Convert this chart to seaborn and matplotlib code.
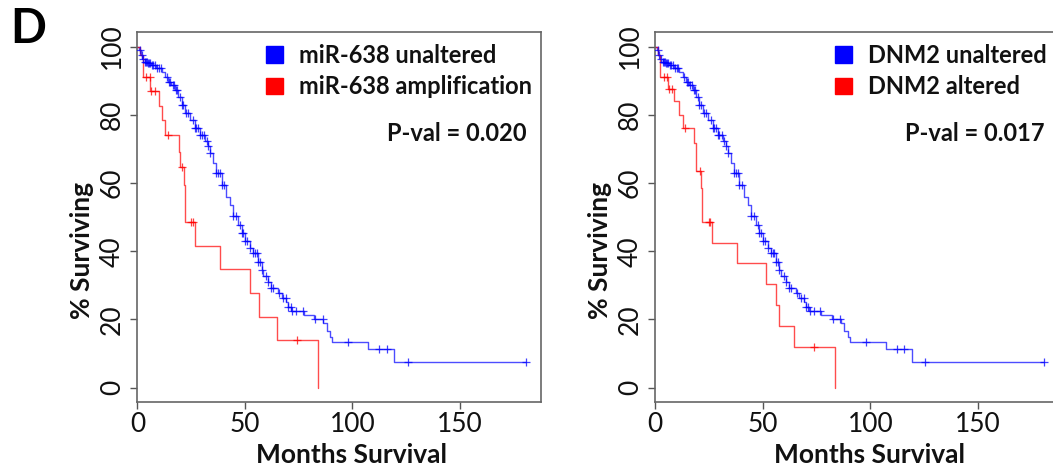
import numpy as np
import pandas as pd
import seaborn as sns
import matplotlib
matplotlib.use("Agg")
import matplotlib.pyplot as plt
from matplotlib.patches import Patch

# ---- Kaplan-Meier curves: months at each drop, % surviving after the drop ----
unaltered_t = [0, 0.8, 1.4, 2.3, 3.4, 5.0, 6.5, 8.8, 11.2, 12.7, 14.3, 15.8, 17.4,
               18.9, 20.5, 22.0, 24.3, 26.7, 29.0, 31.3, 32.9, 33.6, 35.2, 36.7,
               39.1, 41.4, 42.9, 44.5, 46.8, 48.4, 49.9, 52.3, 53.8, 56.1, 57.7,
               58.5, 60.8, 62.3, 65.4, 67.0, 69.3, 70.1, 71.6, 77.3, 82.0, 86.5,
               88.0, 89.5, 90.6, 107.3, 119.3]
unaltered_s = [100, 99.0, 97.6, 96.3, 95.6, 95.1, 94.6, 93.7, 92.7, 91.2, 89.7, 88.8,
               87.3, 85.3, 82.9, 80.4, 78.5, 76.0, 74.0, 72.3, 71.0, 68.7, 65.8,
               62.9, 59.4, 56.0, 53.6, 50.2, 47.7, 45.3, 43.0, 41.0, 39.6, 36.9,
               34.5, 32.6, 31.1, 29.1, 27.7, 26.2, 25.2, 23.7, 22.5, 21.2, 20.0,
               18.9, 16.5, 15.0, 13.5, 11.4, 7.6]
unaltered_cens = [1.1, 1.9, 2.6, 3.4, 3.9, 4.5, 5.0, 5.4, 6.0, 6.7, 7.3, 8.1, 9.1,
                  10.1, 10.7, 13.5, 14.7, 15.3, 16.3, 17.1, 17.8, 18.4, 19.7, 20.5,
                  21.2, 22.5, 23.6, 25.9, 26.7, 27.4, 28.2, 29.0, 29.8, 30.9, 32.1,
                  32.9, 33.6, 36.7, 37.5, 38.3, 39.1, 40.2, 44.5, 46.0, 47.6, 48.4,
                  49.2, 49.9, 51.0, 52.3, 53.8, 54.6, 55.4, 56.1, 57.2, 57.7, 59.7,
                  60.8, 62.3, 63.1, 65.9, 67.8, 69.0, 70.1, 71.2, 72.1, 73.6, 76.8,
                  82.5, 86.1, 98.0, 112.4, 115.9, 125.6, 180.7]

mir_amp_t = [0, 1.1, 2.6, 6.0, 9.9, 11.5, 13.0, 19.2, 19.7, 21.5, 22.2, 26.7,
             38.3, 52.3, 56.6, 65.0, 84.1]
mir_amp_s = [100, 97.6, 91.0, 87.1, 82.6, 78.5, 74.1, 69.2, 64.8, 59.4, 48.7,
             41.6, 34.7, 27.9, 20.7, 14.0, 0]
mir_amp_cens = [3.9, 5.7, 6.5, 8.0, 14.3, 20.9, 25.1, 25.6, 74.3]

dnm2_alt_t = [0, 1.2, 2.4, 5.8, 8.9, 11.2, 12.8, 18.2, 19.1, 21.4, 21.9, 26.4,
              37.8, 51.7, 56.0, 57.5, 64.3, 83.6]
dnm2_alt_s = [100, 97.6, 91.2, 87.5, 84.2, 80.0, 76.0, 71.7, 63.4, 58.5, 48.7,
              42.5, 36.5, 30.4, 24.3, 18.1, 12.0, 0]
dnm2_alt_cens = [3.9, 5.3, 6.3, 7.8, 13.9, 21.0, 25.0, 25.6, 73.7]

left_labels = ["miR-638 unaltered", "miR-638 amplification"]
right_labels = ["DNM2 unaltered", "DNM2 altered"]
left_pval = "P-val = 0.020"
right_pval = "P-val = 0.017"

x_ticks = [0, 50, 100, 150]
y_ticks = [0, 20, 40, 60, 80, 100]

BLUE = "#0000FF"
RED = "#FF0000"

sns.set_theme(style="white")
plt.rcParams["font.family"] = ["Lato", "DejaVu Sans"]

W, H = 1053, 468
fig = plt.figure(figsize=(W / 100, H / 100), dpi=100)


def step_frame(t, s, cens):
    t = list(t)
    s = list(s)
    # carry the last level out to the last censored follow-up
    if cens and max(cens) > t[-1]:
        t.append(max(cens))
        s.append(s[-1])
    return pd.DataFrame({"months": t, "surv": s})


def censor_frame(t, s, cens):
    t = np.asarray(t)
    s = np.asarray(s)
    idx = np.searchsorted(t, cens, side="right") - 1
    return pd.DataFrame({"months": cens, "surv": s[idx]})


def draw_panel(ax, groups, labels, pval):
    for (t, s, cens), color in zip(groups, [BLUE, RED]):
        sns.lineplot(data=step_frame(t, s, cens), x="months", y="surv", ax=ax,
                     color=color, lw=1.0, alpha=0.7, drawstyle="steps-post",
                     estimator=None, sort=False)
        sns.scatterplot(data=censor_frame(t, s, cens), x="months", y="surv",
                        ax=ax, marker="+", s=32, linewidth=0.9, color=color,
                        alpha=0.75, zorder=3)
    ax.set_xlim(0, 187.7)
    ax.set_ylim(-4.2, 104.2)
    ax.set_xticks(x_ticks)
    ax.set_yticks(y_ticks)
    ax.tick_params(axis="both", which="major", length=5, width=1.0,
                   color="#555555", labelsize=19, labelcolor="#111111",
                   bottom=True, left=True)
    ax.tick_params(axis="x", pad=2)
    ax.tick_params(axis="y", pad=4, labelrotation=90)
    for lbl in ax.get_yticklabels():
        lbl.set_va("center")
    for sp in ax.spines.values():
        sp.set_color("#666666")
        sp.set_linewidth(1.2)
    ax.set_xlabel("Months Survival", fontsize=19, fontweight="bold", color="#111111")
    ax.set_ylabel("% Surviving", fontsize=19, fontweight="bold", color="#111111")
    ax.xaxis.set_label_coords(0.53, -0.112)
    ax.yaxis.set_label_coords(-0.107, 0.41)
    handles = [Patch(facecolor=BLUE, edgecolor=BLUE), Patch(facecolor=RED, edgecolor=RED)]
    leg = ax.legend(handles, labels, loc="upper left", frameon=False,
                    bbox_to_anchor=(0.318, 0.969), borderaxespad=0, borderpad=0,
                    handlelength=0.72, handleheight=0.72, handletextpad=0.7,
                    labelspacing=0.36, prop={"size": 17, "weight": "bold"})
    for txt in leg.get_texts():
        txt.set_color("#111111")
    ax.text(0.965, 0.727, pval, transform=ax.transAxes, ha="right", va="center",
            fontsize=17, fontweight="bold", color="#111111")


ax_w = 403.5 / W
ax_h = (402 - 32.3) / H
ax_b = 1 - 402 / H
ax1 = fig.add_axes([137.5 / W, ax_b, ax_w, ax_h])
ax2 = fig.add_axes([655.3 / W, ax_b, ax_w, ax_h])

draw_panel(ax1,
           [(unaltered_t, unaltered_s, unaltered_cens),
            (mir_amp_t, mir_amp_s, mir_amp_cens)],
           left_labels, left_pval)
draw_panel(ax2,
           [(unaltered_t, unaltered_s, unaltered_cens),
            (dnm2_alt_t, dnm2_alt_s, dnm2_alt_cens)],
           right_labels, right_pval)
ax2.legend_.set_bbox_to_anchor((0.445, 0.969), transform=ax2.transAxes)

fig.text(10 / W, 1 - 7 / H, "D", fontsize=34, fontweight="bold",
         ha="left", va="top", color="black")

fig.savefig("out.png", dpi=100)
